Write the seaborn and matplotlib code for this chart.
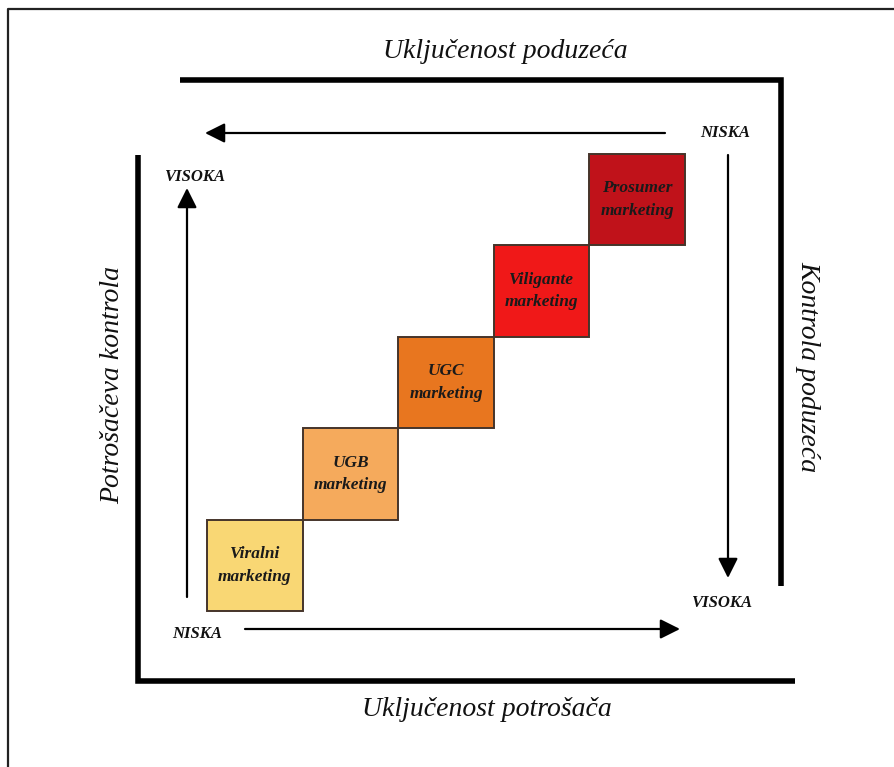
import numpy as np
import matplotlib.pyplot as plt
import seaborn as sns

# steps of the marketing staircase (1 = lowest consumer involvement)
levels = np.array([1, 2, 3, 4, 5])
box_labels = ['Viralni\nmarketing', 'UGB\nmarketing', 'UGC\nmarketing',
              'Viligante\nmarketing', 'Prosumer\nmarketing']
box_colors = ['#F9D774', '#F5AA5C', '#E8761F', '#F01818', '#C0121A']

top_title = 'Uključenost poduzeća'
bottom_title = 'Uključenost potrošača'
left_title = 'Potrošačeva kontrola'
right_title = 'Kontrola poduzeća'
low_label = 'NISKA'
high_label = 'VISOKA'

sns.set_theme(style='white')
plt.rcParams['font.family'] = ['Liberation Serif', 'DejaVu Serif']

fig = plt.figure(figsize=(8.94, 7.67), dpi=100)

# staircase axes: one box = one unit
ax = fig.add_axes([0, 0, 1, 1])
bw, bh = 95.6, 91.4  # pixels per unit
ax.set_xlim(-207 / bw, (894 - 207) / bw)
ax.set_ylim(-(767 - 611) / bh, 611 / bh)
ax.bar(levels - 0.5, 1, bottom=levels - 1, width=1, color=box_colors,
       edgecolor='#45342a', linewidth=1.4)
for lv, lab in zip(levels, box_labels):
    ax.text(lv - 0.5, lv - 0.5, lab, ha='center', va='center', fontsize=12.5,
            fontstyle='italic', fontweight='bold', color='#1a1a1a', linespacing=1.55)
ax.axis('off')

# decoration layer in pixel coordinates
ov = fig.add_axes([0, 0, 1, 1], facecolor='none')
ov.set_xlim(0, 894)
ov.set_ylim(767, 0)
ov.axis('off')

# outer frame
ov.plot([8, 8, 894], [767, 9, 9], color='#222222', lw=1.6, solid_capstyle='butt')

# brackets
bkw = dict(color='black', lw=4, solid_joinstyle='miter', solid_capstyle='butt')
ov.plot([180, 781, 781], [80, 80, 586], **bkw)
ov.plot([138, 138, 795], [155, 681, 681], **bkw)

# arrows
arr = dict(arrowstyle='-|>', lw=1.6, color='black', mutation_scale=30, shrinkA=0, shrinkB=0)
ov.annotate('', xy=(205, 133), xytext=(665, 133), arrowprops=arr)
ov.annotate('', xy=(187, 188), xytext=(187, 597), arrowprops=arr)
ov.annotate('', xy=(680, 629), xytext=(245, 629), arrowprops=arr)
ov.annotate('', xy=(728, 578), xytext=(728, 155), arrowprops=arr)

# axis titles
tkw = dict(fontsize=20, fontstyle='italic', color='#111111', ha='center', va='center')
ov.text(505, 52, top_title, **tkw)
ov.text(487, 710, bottom_title, **tkw)
ov.text(113, 385, left_title, rotation=90, **tkw)
ov.text(808, 367, right_title, rotation=270, **tkw)

# low / high markers
mkw = dict(fontsize=12, fontstyle='italic', fontweight='bold', color='#111111',
           ha='center', va='center')
ov.text(725, 133, low_label, **mkw)
ov.text(195, 177, high_label, **mkw)
ov.text(197, 634, low_label, **mkw)
ov.text(722, 603, high_label, **mkw)

fig.savefig('out.png', dpi=100)
